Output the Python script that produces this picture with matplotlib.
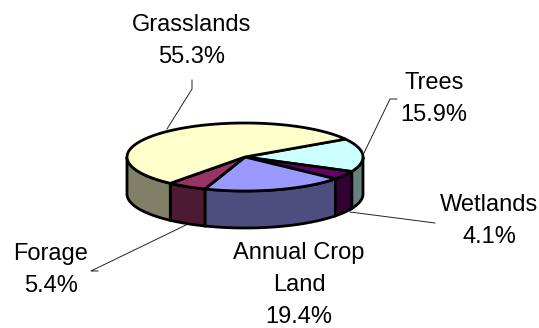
import numpy as np
import matplotlib
matplotlib.use("Agg")
import matplotlib.pyplot as plt

# Data, clockwise from the Trees slice
names = ["Trees", "Wetlands", "Annual Crop\nLand", "Forage", "Grasslands"]
values = [15.9, 4.1, 19.4, 5.4, 55.3]
top_colors = ["#CCFFFF", "#660066", "#9999FF", "#993366", "#FFFFCC"]
side_colors = ["#668080", "#330033", "#4D4D80", "#4D1A33", "#808066"]

# Pie geometry in pixels
cx, cy = 245, 157
rx, ry = 118, 34
depth = 37
start_angle = 32

# Label centres and leader lines in pixels
label_xy = [(434, 99), (489, 221), (299, 285), (51, 270), (192, 41)]
leaders = [
    ([192, 192, 167], [80, 89, 129]),
    ([397, 390, 364], [99, 99, 153]),
    ([435, 350], [223, 212]),
    ([98, 91, 186], [271, 271, 225]),
]

fig = plt.figure(figsize=(5.39, 3.28), dpi=100)
ax = fig.add_axes([0, 0, 1, 1])
ax.set_xlim(0, 539)
ax.set_ylim(328, 0)
ax.axis("off")


def rim(a, b, dz=0):
    t = np.radians(np.linspace(a, b, 80))
    return cx + rx*np.cos(t), cy - ry*np.sin(t) + dz


edges = start_angle - np.cumsum([0] + values)*3.6

# Sides, only the front half of the rim shows
for i in range(len(values)):
    hi = min(edges[i], 0)
    lo = max(edges[i+1], -180)
    if hi > lo:
        x1, y1 = rim(hi, lo)
        x2, y2 = rim(lo, hi, depth)
        ax.fill(np.r_[x1, x2], np.r_[y1, y2], fc=side_colors[i], ec="black", lw=2.0, zorder=2)

# Top surface
for i in range(len(values)):
    x, y = rim(edges[i], edges[i+1])
    ax.fill(np.r_[cx, x], np.r_[cy, y], fc=top_colors[i], ec="black", lw=2.0, zorder=3)

for lx, ly in leaders:
    ax.plot(lx, ly, color="#222222", lw=0.7, zorder=1)

for name, v, (x, y) in zip(names, values, label_xy):
    ax.text(x, y, f"{name}\n{v}%", ha="center", va="center", fontsize=17,
            family="Liberation Sans", color="black", linespacing=1.6, clip_on=False)

fig.savefig("out.png", dpi=100)
